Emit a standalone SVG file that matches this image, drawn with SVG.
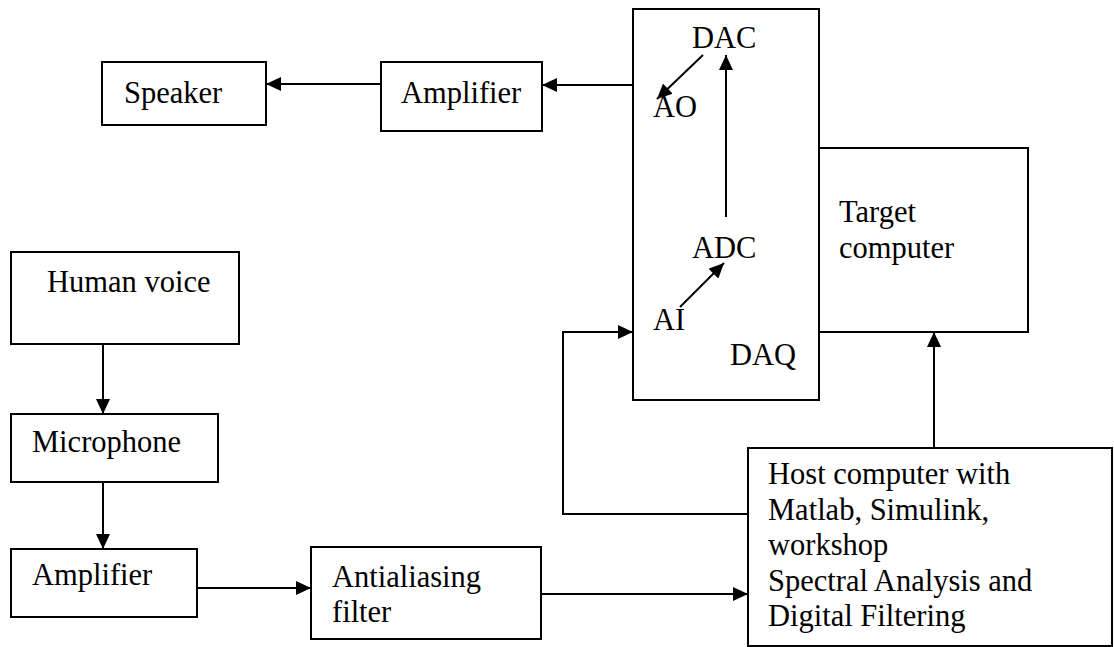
<svg xmlns="http://www.w3.org/2000/svg" width="1114" height="647" viewBox="0 0 1114 647">
<style>
.box{fill:none;stroke:#000;stroke-width:2}
.ln{fill:none;stroke:#000;stroke-width:2}
text{font-family:"Liberation Serif","Times New Roman",serif;font-size:30.5px;fill:#000}
</style>
<defs>
<marker id="ah" markerUnits="userSpaceOnUse" markerWidth="16" markerHeight="14" refX="15" refY="7" orient="auto">
<path d="M0,0 L15,7 L0,14 Z" fill="#000"/>
</marker>
</defs>
<rect width="1114" height="647" fill="#fff"/>
<g id="speaker"><rect class="box" x="102" y="62" width="164" height="63"/><text x="124" y="103">Speaker</text></g>
<g id="amplifier-out"><rect class="box" x="381" y="62" width="161" height="69"/><text x="401" y="103">Amplifier</text></g>
<g id="daq"><rect class="box" x="633" y="9" width="186" height="391"/>
<text x="692" y="48">DAC</text><text x="653" y="117">AO</text><text x="692" y="258">ADC</text><text x="653" y="330">AI</text><text x="730" y="365">DAQ</text></g>
<g id="target"><rect class="box" x="819" y="148" width="209" height="184"/><text x="839" y="222">Target</text><text x="839" y="258">computer</text></g>
<g id="human-voice"><rect class="box" x="11" y="252" width="228" height="92"/><text x="47" y="292">Human voice</text></g>
<g id="microphone"><rect class="box" x="11" y="414" width="207" height="68"/><text x="32" y="452">Microphone</text></g>
<g id="amplifier-in"><rect class="box" x="11" y="549" width="186" height="68"/><text x="32" y="585">Amplifier</text></g>
<g id="antialiasing"><rect class="box" x="311" y="547" width="230" height="92"/><text x="332" y="587">Antialiasing</text><text x="332" y="622">filter</text></g>
<g id="host"><rect class="box" x="748" y="448" width="364" height="198"/>
<text x="768" y="484">Host computer with</text><text x="768" y="519.5">Matlab, Simulink,</text><text x="768" y="555">workshop</text><text x="768" y="590.5">Spectral Analysis and</text><text x="768" y="626">Digital Filtering</text></g>
<g id="connectors">
<path class="ln" d="M633,85 L542,85" marker-end="url(#ah)"/>
<path class="ln" d="M381,84 L266,84" marker-end="url(#ah)"/>
<path class="ln" d="M103,344 L103,414" marker-end="url(#ah)"/>
<path class="ln" d="M103,482 L103,549" marker-end="url(#ah)"/>
<path class="ln" d="M197,588 L311,588" marker-end="url(#ah)"/>
<path class="ln" d="M541,594 L748,594" marker-end="url(#ah)"/>
<path class="ln" d="M934,448 L934,332" marker-end="url(#ah)"/>
<path class="ln" d="M748,514 L563,514 L563,332 L633,332" marker-end="url(#ah)"/>
<path class="ln" d="M703,55 L657,99" marker-end="url(#ah)"/>
<path class="ln" d="M726,217 L726,55" marker-end="url(#ah)"/>
<path class="ln" d="M680,307 L724,263" marker-end="url(#ah)"/>
</g>
</svg>
